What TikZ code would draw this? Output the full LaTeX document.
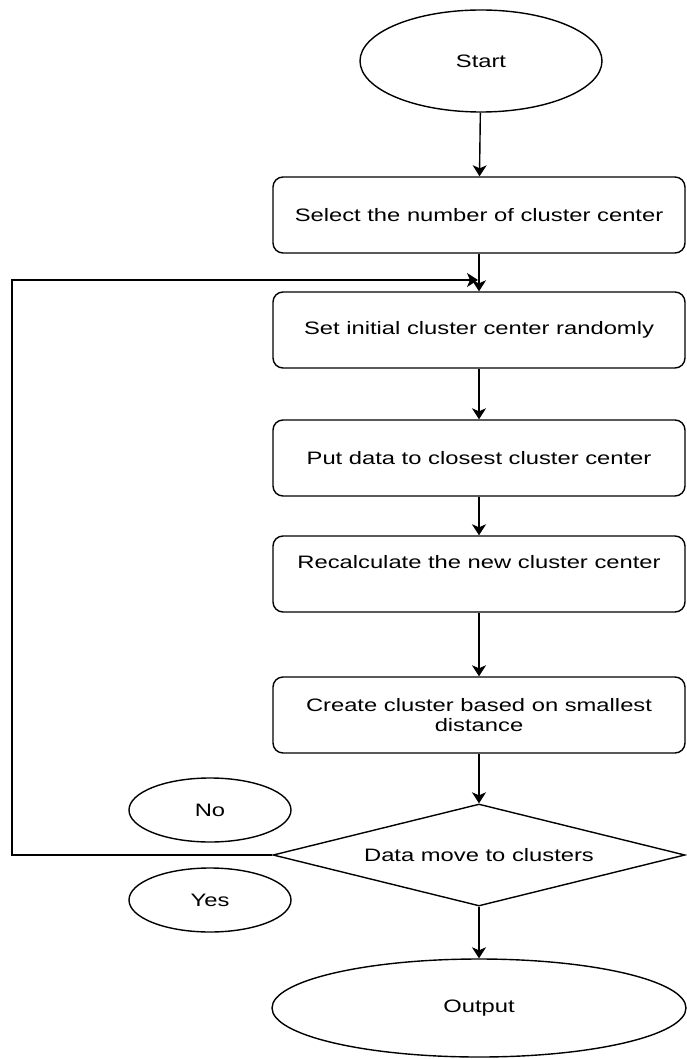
\documentclass[tikz,border=0pt]{standalone}
\usepackage{fontspec}
\setmainfont{Liberation Sans}[FakeStretch=1.32]
\usetikzlibrary{arrows.meta,shapes.geometric,positioning}
\tikzstyle{process} = [rectangle, draw, rounded corners=10pt, minimum width=412pt, minimum height=76pt, inner sep=0pt, align=center]
\tikzstyle{terminal} = [ellipse, draw, inner sep=0pt]
\tikzstyle{decision} = [diamond, draw, aspect=4.04, minimum width=412pt, minimum height=102pt, inner sep=0pt]
\tikzstyle{arrow} = [-{Stealth[length=11pt,width=14pt,inset=3pt]}]

\begin{document}
\begin{tikzpicture}[x=1pt, y=-1pt, line width=1.4pt, font=\fontsize{18}{19.5}\selectfont]
    \useasboundingbox (0,0) rectangle (686,1059);

    \node[terminal, minimum width=242pt, minimum height=102pt] (start) at (481,61) {Start};
    \node[process] (select) at (479,215) {Select the number of cluster center};
    \node[process] (init) at (479,330) {Set initial cluster center randomly};
    \node[process] (assign) at (479,458) {Put data to closest cluster center};
    \node[process, text height=12pt, text depth=24pt] (recalc) at (479,574) {Recalculate the new cluster center};
    \node[process] (create) at (479,715) {Create cluster based on smallest\\distance};
    \node[decision] (check) at (479,855) {Data move to clusters};
    \node[terminal, minimum width=414pt, minimum height=98pt] (output) at (479,1008) {Output};

    \node[terminal, minimum width=162pt, minimum height=64pt] (no) at (210,810) {No};
    \node[terminal, minimum width=162pt, minimum height=64pt] (yes) at (210,900) {Yes};

    \draw[arrow] (start) -- (select);
    \draw[arrow] (select) -- (init);
    \draw[arrow] (init) -- (assign);
    \draw[arrow] (assign) -- (recalc);
    \draw[arrow] (recalc) -- (create);
    \draw[arrow] (create) -- (check);
    \draw[arrow] (check) -- (output);

    % back to the start of the loop
    \coordinate (back) at (12,280);
    \coordinate (merge) at (478,280);
    \draw[arrow] (check.west) -| (back) -- (merge);
\end{tikzpicture}
\end{document}
